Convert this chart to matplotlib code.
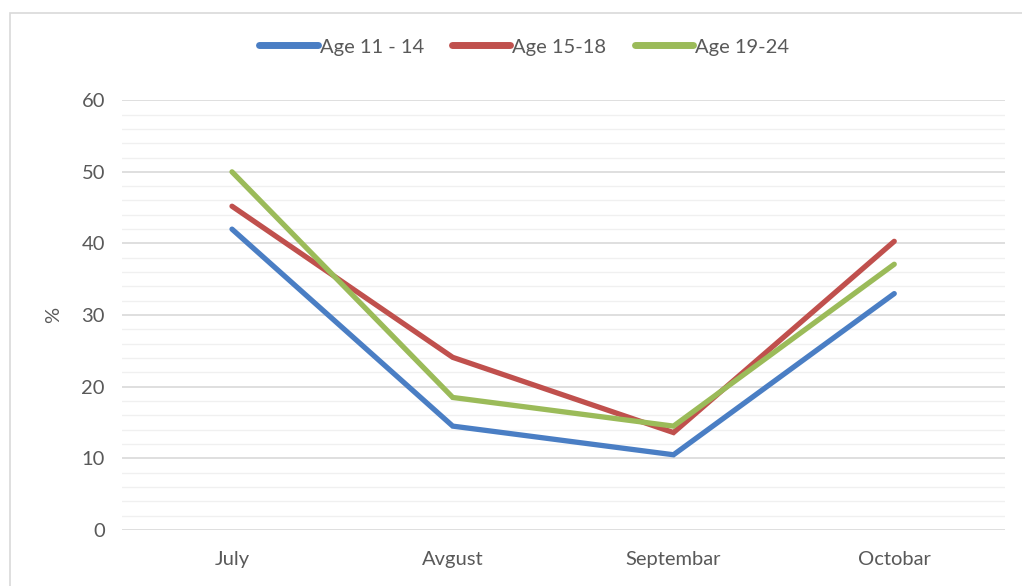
import numpy as np
import matplotlib.pyplot as plt
from matplotlib.patches import Rectangle
from matplotlib.ticker import MultipleLocator

months = ['July', 'Avgust', 'Septembar', 'Octobar']
age_11_14 = [42.0, 14.5, 10.5, 33.0]
age_15_18 = [45.2, 24.1, 13.6, 40.3]
age_19_24 = [50.0, 18.5, 14.5, 37.1]
series_names = ['Age 11 - 14', 'Age 15-18', 'Age 19-24']
colors = ['#4A7EC4', '#C0504D', '#9BBB59']

plt.rcParams['font.family'] = ['Lato', 'DejaVu Sans']
fs = 14.5

fig = plt.figure(figsize=(10.22, 5.86), dpi=100)
# light frame around the chart
fig.patches.append(Rectangle((10 / 1022, -0.05), 1.1, 1 - 13 / 586 + 0.05,
                             transform=fig.transFigure, fill=False,
                             edgecolor='#D9D9D9', linewidth=1.2))

ax = fig.add_axes([0.119, 0.0956, 0.864, 0.7334])
x = np.arange(len(months))
for vals, name, c in zip([age_11_14, age_15_18, age_19_24], series_names, colors):
    ax.plot(x, vals, color=c, linewidth=3.8, label=name, solid_capstyle='round',
            solid_joinstyle='miter')

ax.set_xlim(-0.5, len(months) - 0.5)
ax.set_ylim(0, 60)
ax.yaxis.set_major_locator(MultipleLocator(10))
ax.yaxis.set_minor_locator(MultipleLocator(2))
ax.grid(which='major', axis='y', color='#D9D9D9', linewidth=1.2)
ax.grid(which='minor', axis='y', color='#F0F0F0', linewidth=1.0)
ax.set_axisbelow(True)
for s in ax.spines.values():
    s.set_visible(False)
ax.tick_params(which='both', length=0)
ax.tick_params(axis='y', pad=12, labelsize=fs, labelcolor='#595959')
ax.tick_params(axis='x', pad=15, labelsize=fs, labelcolor='#595959')
ax.set_xticks(x)
ax.set_xticklabels(months)
ax.set_ylabel('%', fontsize=fs, color='#595959', labelpad=14)

leg = fig.legend(loc='center', bbox_to_anchor=(0.513, 1 - 47 / 586), ncol=3,
                 frameon=False, fontsize=fs, labelcolor='#595959',
                 handlelength=2.9, handletextpad=0.1, columnspacing=1.4)
for h in leg.get_lines():
    h.set_linewidth(5)

plt.savefig('out.png', dpi=100)
